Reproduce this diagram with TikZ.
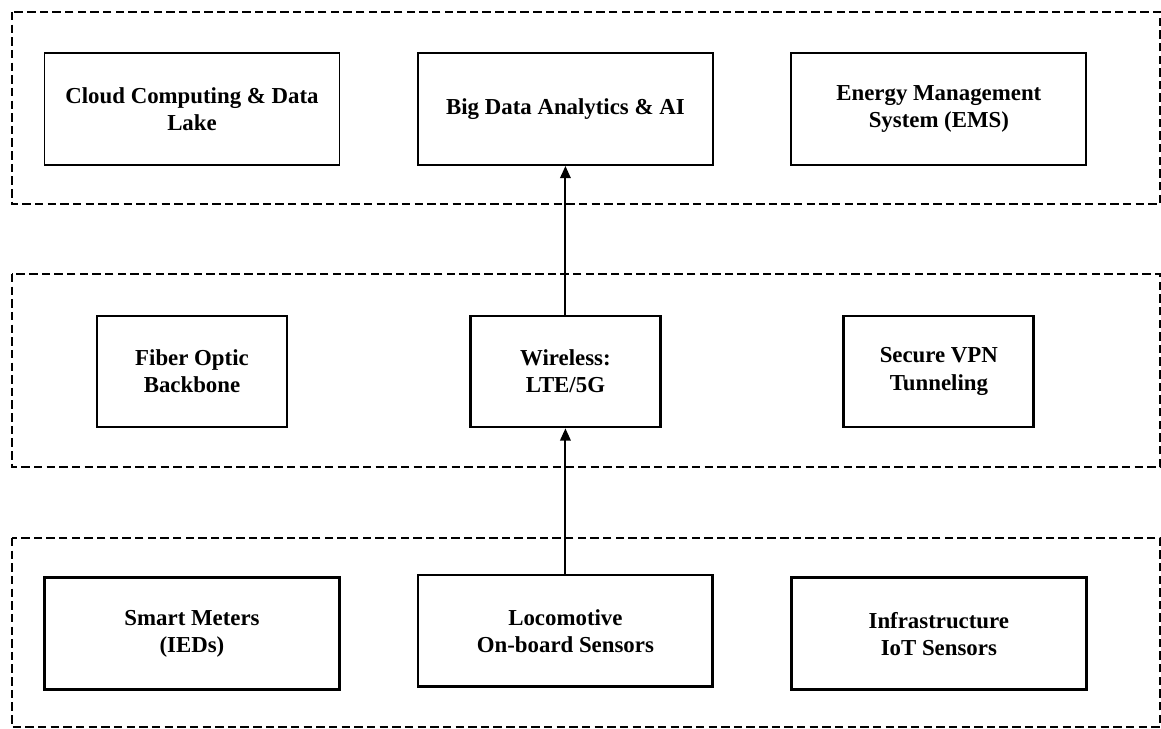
\documentclass[tikz,border=0pt]{standalone}
\usepackage{fontspec}
\setmainfont{Liberation Serif}
\usepackage{tikz}
\usetikzlibrary{positioning,arrows.meta}

\begin{document}
\begin{tikzpicture}[x=0.02cm,y=-0.02cm,node distance=5.25cm and 7.47cm,on grid,
	layer/.style={dashed,line width=1.1pt,dash pattern=on 4.8pt off 2.4pt},
	topbox/.style={draw,line width=1.1pt,minimum width=5.9cm,minimum height=2.24cm,align=center,font=\fontsize{13}{15.5}\selectfont\bfseries},
	midbox/.style={draw,line width=1.6pt,minimum width=3.8cm,minimum height=2.22cm,align=center,font=\fontsize{13}{15.5}\selectfont\bfseries},
	lowbox/.style={draw,line width=1.6pt,minimum width=5.9cm,minimum height=2.24cm,align=center,font=\fontsize{13}{15.5}\selectfont\bfseries}]
	\useasboundingbox (0,0) rectangle (1161,729);

	% layers
	\draw[layer] (12,12) rectangle (1160,204);
	\draw[layer] (12,274) rectangle (1160,467);
	\draw[layer] (12,538) rectangle (1160,727);

	\node[topbox] (cloud) at (192,109) {Cloud Computing \& Data\\Lake};
	\node[topbox] (bigdata) [right=of cloud] {Big Data Analytics \& AI};
	\node[topbox] (ems) [right=of bigdata] {Energy Management\\System (EMS)};

	\node[midbox] (fiber) [below=of cloud] {Fiber Optic\\Backbone};
	\node[midbox] (wireless) [below=of bigdata] {Wireless:\\LTE/5G};
	\node[midbox] (vpn) [below=of ems] {Secure VPN\\Tunneling};

	\node[lowbox] (meters) [below=of fiber] {Smart Meters\\(IEDs)};
	\node[lowbox] (loco) [below=of wireless,yshift=0.06cm] {Locomotive\\On-board Sensors};
	\node[lowbox] (iot) [below=of vpn] {Infrastructure\\IoT Sensors};

	\path[-{Triangle[length=7pt,width=6pt]},line width=1.1pt]
	(loco) edge (wireless)
	(wireless) edge (bigdata);

\end{tikzpicture}
\end{document}
